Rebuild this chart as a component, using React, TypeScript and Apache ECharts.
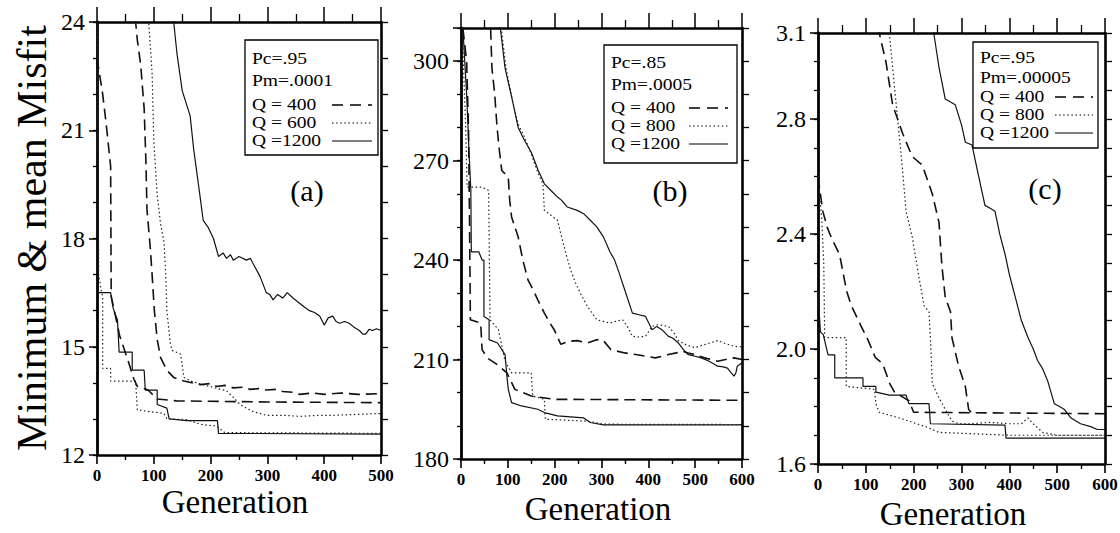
import React, { useEffect, useRef } from "react";
import * as echarts from "echarts";

const FONT = "Liberation Serif";

// ---------- axis ranges / tick labels ----------
const xMaxA = 500;
const xMaxBC = 600;
const xLabelsA = [0, 100, 200, 300, 400, 500];
const xLabelsBC = [0, 100, 200, 300, 400, 500, 600];
const yLabelsA = [12, 15, 18, 21, 24];
const yLabelsB = [180, 210, 240, 270, 300];
const yLabelsC = [1.6, 2.0, 2.4, 2.8, 3.1];

// ---------- panel (a): Pc=.95 Pm=.0001 ----------
const aMean1200 = [[128,26],[135,24],[141,23.1],[150,22.1],[164,21.4],[170,20.5],[182,19.1],[187,18.5],[196,18.3],[205,18.0],[214,17.5],[222,17.6],[228,17.45],[235,17.55],[240,17.4],[250,17.5],[263,17.4],[270,17.45],[275,17.3],[287,16.95],[298,16.5],[304,16.45],[310,16.3],[318,16.45],[327,16.35],[335,16.5],[345,16.35],[357,16.2],[365,16.1],[374,16.0],[383,15.95],[392,15.85],[400,15.6],[407,15.8],[415,15.85],[421,15.7],[427,15.65],[436,15.7],[444,15.65],[452,15.55],[462,15.45],[468,15.35],[473,15.35],[479,15.48],[485,15.45],[492,15.5],[500,15.45]];
const aMin1200 = [[0,26],[2,16.5],[24,16.5],[28,16.1],[32,15.9],[36,15.75],[39,14.85],[62,14.85],[62,14.35],[83,14.35],[85,13.8],[106,13.8],[106,13.4],[123,13.3],[127,13.0],[158,12.95],[212,12.95],[214,12.6],[500,12.58]];
const aMean600 = [[88,26],[91,24],[97,22.6],[100,20.7],[106,19.2],[112,18.4],[118,17.9],[121,17.0],[123,16.0],[129,15.1],[132,14.9],[147,14.8],[150,14.5],[153,14.15],[165,14.05],[182,13.97],[205,13.87],[228,13.78],[240,13.6],[252,13.4],[263,13.3],[275,13.2],[298,13.1],[330,13.1],[357,13.07],[390,13.1],[415,13.1],[450,13.12],[500,13.15]];
const aMin600 = [[0,26],[3,17],[8,16.5],[10,16.4],[10,14.4],[24,14.4],[24,14.05],[68,14.05],[71,13.25],[118,13.15],[123,13.0],[158,12.98],[182,12.85],[211,12.8],[225,12.62],[500,12.6]];
const aMean400 = [[65,26],[68,24],[71,23.5],[77,22.8],[83,21.6],[86,20.2],[88,18.8],[94,17.7],[97,17.0],[101,16.0],[106,15.2],[112,14.7],[123,14.35],[135,14.15],[153,14.05],[182,13.95],[200,13.98],[211,13.9],[225,13.93],[240,13.86],[260,13.88],[269,13.82],[285,13.84],[298,13.8],[315,13.82],[327,13.76],[345,13.74],[357,13.68],[380,13.72],[400,13.68],[430,13.72],[460,13.68],[500,13.7]];
const aMin400 = [[0,23],[10,22],[16,21.2],[24,20],[25,16.4],[40,15.3],[55,14.6],[65,14.1],[71,13.9],[90,13.8],[106,13.55],[140,13.5],[300,13.47],[500,13.45]];

// ---------- panel (b): Pc=.85 Pm=.0005 ----------
const bMean1200 = [[82,320],[84,310],[94,298],[110,288],[122,280],[136,276],[150,272.5],[165,267],[178,263],[192,261],[206,259],[215,258],[227,256],[248,255],[262,254],[276,252],[290,250],[304,247],[318,242.5],[328,240],[338,236],[352,230],[366,224],[380,223.5],[394,223],[408,219],[418,220],[429,219],[443,217],[452,216.5],[464,215],[475,213],[485,211.5],[500,211],[513,210.5],[530,209.5],[548,208],[560,207.8],[569,207.4],[577,206],[583,205],[587,206],[590,208],[600,209]];
const bMean800 = [[82,320],[86,310],[96,298],[110,288],[122,281],[136,277],[150,272],[165,266],[175,263],[178,255],[192,253.5],[206,252],[213,248],[224,242],[234,237],[245,233],[255,230],[270,226],[290,222],[304,221.5],[318,221],[330,221.5],[345,222],[355,220],[366,217],[380,216.8],[394,217],[408,220],[420,220.5],[443,220],[455,218],[464,215.7],[480,214.5],[499,213.6],[520,214.5],[548,215.7],[565,214.8],[583,214],[600,213.8]];
const bMean400 = [[60,320],[63,311],[66,298],[72,290],[77,280],[82,273],[87,267],[101,265],[104,258],[108,253],[122,247],[132,240],[143,234],[154,231],[164,228],[178,224],[190,221],[199,219],[213,214.6],[230,215.5],[248,215.7],[270,215],[290,216],[304,215.7],[320,213],[331,212.6],[350,212],[373,211.5],[395,211],[415,210.5],[430,211],[443,211.5],[460,212],[471,212.6],[485,212],[499,211.5],[520,210.5],[548,209.5],[565,210],[583,210.5],[600,210]];
const bMin1200 = [[0,320],[12,290],[18,270],[21,261],[22,242.5],[38,242.5],[45,240],[49,240],[49,223],[60,222],[60,216],[78,215],[94,211.5],[98,205],[101,201],[108,197],[129,196],[164,195],[178,194],[206,193],[262,192.4],[276,191],[304,190.3],[600,190.3]];
const bMin800 = [[0,320],[10,280],[13,262],[45,262],[59,261],[62,222],[80,219],[94,209.5],[108,206],[150,206],[153,199],[178,198],[180,192],[270,191.4],[304,190.5],[600,190.4]];
const bMin400 = [[0,315],[12,300],[16,280],[18,255],[20,222],[42,221],[45,213],[56,210.5],[78,208.4],[98,206],[115,201],[150,199],[199,198],[600,197.7]];

// ---------- panel (c): Pc=.95 Pm=.00005 ----------
const cMean1200 = [[238,3.3],[242,3.1],[253,2.98],[266,2.87],[287,2.85],[300,2.78],[308,2.72],[322,2.71],[336,2.6],[349,2.5],[360,2.49],[370,2.48],[380,2.4],[391,2.33],[400,2.26],[411,2.19],[425,2.1],[439,2.04],[450,2.0],[459,1.96],[470,1.93],[480,1.89],[494,1.81],[505,1.8],[515,1.79],[529,1.76],[549,1.74],[570,1.73],[584,1.72],[600,1.72]];
const cMean800 = [[146,3.3],[149,3.1],[156,2.98],[163,2.86],[170,2.74],[177,2.62],[184,2.48],[197,2.39],[211,2.25],[222,2.15],[232,2.13],[235,2.04],[239,1.88],[253,1.83],[266,1.79],[280,1.75],[294,1.74],[320,1.74],[360,1.745],[400,1.74],[425,1.74],[439,1.76],[450,1.74],[470,1.71],[500,1.7],[600,1.7]];
const cMean400 = [[125,3.3],[128,3.1],[142,3.0],[156,2.85],[177,2.75],[197,2.67],[218,2.64],[239,2.54],[253,2.44],[259,2.29],[266,2.18],[277,2.13],[280,2.04],[294,1.94],[308,1.87],[315,1.79],[320,1.78]];
const cMin1200 = [[0,2.2],[5,2.06],[11,2.05],[21,1.98],[35,1.98],[35,1.9],[94,1.9],[94,1.87],[121,1.87],[121,1.85],[149,1.84],[184,1.84],[190,1.81],[232,1.81],[235,1.74],[391,1.735],[393,1.69],[600,1.69]];
const cMin800 = [[0,2.6],[8,2.45],[12,2.3],[14,2.04],[59,2.04],[59,1.87],[118,1.86],[121,1.81],[128,1.78],[170,1.76],[225,1.73],[253,1.71],[400,1.7],[600,1.7]];
const cMin400 = [[0,2.6],[10,2.48],[20,2.42],[30,2.38],[45,2.33],[60,2.2],[70,2.15],[90,2.08],[105,2.03],[120,1.97],[135,1.95],[150,1.88],[160,1.85],[180,1.83],[190,1.82],[200,1.78],[600,1.775]];

// ---------- legend texts ----------
const legendA = ["Pc=.95", "Pm=.0001", "Q = 400", "Q = 600", "Q =1200"];
const legendB = ["Pc=.85", "Pm=.0005", "Q = 400", "Q = 800", "Q =1200"];
const legendC = ["Pc=.95", "Pm=.00005", "Q = 400", "Q = 800", "Q =1200"];

const DASH = { color: "#111", width: 1.6, type: [11, 6] as any };
const DOT = { color: "#222", width: 1.2, type: [1.5, 2.6] as any };
const SOLID = { color: "#111", width: 1.2, type: "solid" as any };

function line(data: number[][], style: any, p: number) {
  return {
    type: "line",
    data,
    xAxisIndex: 2 * p,
    yAxisIndex: 3 * p,
    symbol: "none",
    showSymbol: false,
    clip: true,
    silent: true,
    lineStyle: style,
    z: 3,
  };
}

function xAxes(p: number, max: number) {
  const base = {
    type: "value",
    gridIndex: p,
    min: 0,
    max,
    interval: 100,
    splitLine: { show: false },
    axisLabel: { show: false },
    axisLine: { show: true, onZero: false, lineStyle: { color: "#000", width: 2.6 } },
  };
  return [
    {
      ...base,
      position: "bottom",
      axisTick: { show: true, inside: false, length: 9, lineStyle: { color: "#000", width: 1.6 } },
      minorTick: { show: true, splitNumber: 2, length: 5, lineStyle: { color: "#000", width: 1.4 } },
    },
    {
      ...base,
      position: "top",
      axisTick: { show: true, inside: false, length: 15, lineStyle: { color: "#000", width: 1.5 } },
      minorTick: { show: true, splitNumber: 2, length: 8, lineStyle: { color: "#000", width: 1.3 } },
    },
  ];
}

function yAxes(p: number, min: number, max: number, major: number, minor: number) {
  const base = {
    type: "value",
    gridIndex: p,
    min,
    max,
    splitLine: { show: false },
    axisLabel: { show: false },
  };
  return [
    {
      ...base,
      position: "left",
      interval: major,
      axisLine: { show: true, onZero: false, lineStyle: { color: "#000", width: 2.8 } },
      axisTick: { show: true, inside: false, length: 8, lineStyle: { color: "#000", width: 1.5 } },
    },
    {
      ...base,
      position: "left",
      interval: minor,
      axisLine: { show: false },
      axisTick: { show: true, inside: false, length: 4, lineStyle: { color: "#000", width: 1.3 } },
    },
    {
      ...base,
      position: "right",
      interval: minor,
      axisLine: { show: true, onZero: false, lineStyle: { color: "#000", width: 2.6 } },
      axisTick: { show: true, inside: false, length: 7, lineStyle: { color: "#000", width: 1.3 } },
    },
  ];
}

function legendBox(x: number, y: number, w: number, h: number, texts: string[], ys: number[], lx1: number, lx2: number) {
  const els: any[] = [
    { type: "rect", shape: { x, y, width: w, height: h }, style: { fill: "#fff", stroke: "#000", lineWidth: 1.3 }, z: 50 },
  ];
  texts.forEach((t, i) => {
    els.push({
      type: "text",
      x: x + 7,
      y: ys[i],
      z: 51,
      scaleX: 1.15,
      style: { text: t, fontFamily: FONT, fontSize: 17, fill: "#000", align: "left", verticalAlign: "middle" },
    });
  });
  const styles = [[11, 7], [1.5, 2.6], null];
  [2, 3, 4].forEach((k, j) => {
    els.push({
      type: "line",
      z: 51,
      shape: { x1: lx1, y1: ys[k] + 1, x2: lx2, y2: ys[k] + 1 },
      style: { stroke: "#000", lineWidth: j === 0 ? 1.5 : 1.1, lineDash: styles[j] || undefined },
    });
  });
  return els;
}

function txt(text: string, x: number, y: number, size: number, extra: any = {}, align = "center", vAlign = "middle", weight = "normal") {
  return {
    type: "text",
    x,
    y,
    z: 60,
    ...extra,
    style: { text, fontFamily: FONT, fontSize: size, fontWeight: weight, fill: "#000", align, verticalAlign: vAlign },
  };
}

export default function App() {
  const ref = useRef<HTMLDivElement>(null);
  useEffect(() => {
    if (!ref.current) return;
    const chart = echarts.init(ref.current, undefined, { renderer: "svg" });
    const staticGraphic: any[] = [
      ...legendBox(245, 40, 133, 115, legendA, [58, 80, 104, 122, 140], 332, 372),
      ...legendBox(604, 45, 133, 118, legendB, [62, 84, 107, 125, 143], 689, 728),
      ...legendBox(973, 42, 125, 106, legendC, [57, 77, 96, 114, 132], 1055, 1093),
      txt("(a)", 307, 190, 30),
      txt("(b)", 670, 190, 30),
      txt("(c)", 1045, 188, 30),
      txt("Generation", 235, 502, 33),
      txt("Generation", 598, 509, 33),
      txt("Generation", 953, 514, 33),
      txt("Minimum & mean Misfit", 32, 238, 42, { rotation: Math.PI / 2 }),
    ];
    const option: any = {
      animation: false,
      backgroundColor: "#fff",
      textStyle: { fontFamily: FONT, color: "#000" },
      grid: [
        { left: 97, top: 22, width: 284, height: 433 },
        { left: 461, top: 28, width: 281, height: 431 },
        { left: 818, top: 33, width: 287, height: 431 },
      ],
      xAxis: [...xAxes(0, xMaxA), ...xAxes(1, xMaxBC), ...xAxes(2, xMaxBC)],
      yAxis: [
        ...yAxes(0, 12, 24, 3, 1),
        ...yAxes(1, 180, 310, 30, 10),
        ...yAxes(2, 1.6, 3.1, 0.4, 0.1),
      ],
      series: [
        line(aMin1200, SOLID, 0),
        line(aMin600, DOT, 0),
        line(aMin400, DASH, 0),
        line(aMean1200, SOLID, 0),
        line(aMean600, DOT, 0),
        line(aMean400, DASH, 0),
        line(bMin1200, SOLID, 1),
        line(bMin800, DOT, 1),
        line(bMin400, DASH, 1),
        line(bMean1200, SOLID, 1),
        line(bMean800, DOT, 1),
        line(bMean400, DASH, 1),
        line(cMin1200, SOLID, 2),
        line(cMin800, DOT, 2),
        line(cMin400, DASH, 2),
        line(cMean1200, SOLID, 2),
        line(cMean800, DOT, 2),
        line(cMean400, DASH, 2),
      ],
      graphic: staticGraphic,
    };
    chart.setOption(option);

    // tick labels placed through the axes' own scales
    const panels = [
      { p: 0, xs: xLabelsA, ys: yLabelsA, yMin: 12, fmt: (v: number) => String(v) },
      { p: 1, xs: xLabelsBC, ys: yLabelsB, yMin: 180, fmt: (v: number) => String(v) },
      { p: 2, xs: xLabelsBC, ys: yLabelsC, yMin: 1.6, fmt: (v: number) => v.toFixed(1) },
    ];
    const labelEls: any[] = [];
    panels.forEach(({ p, xs, ys, yMin, fmt }) => {
      const finder = { xAxisIndex: 2 * p, yAxisIndex: 3 * p };
      xs.forEach((v) => {
        const pt = chart.convertToPixel(finder as any, [v, yMin]) as number[];
        labelEls.push(txt(String(v), pt[0], pt[1] + 12, 17, {}, "center", "top", "bold"));
      });
      ys.forEach((v) => {
        const pt = chart.convertToPixel(finder as any, [0, v]) as number[];
        labelEls.push(txt(fmt(v), pt[0] - 12, pt[1], 24, {}, "right", "middle"));
      });
    });
    chart.setOption({ graphic: [...staticGraphic, ...labelEls] });
    return () => chart.dispose();
  }, []);
  return (
    <div
      ref={ref}
      style={{ position: "absolute", left: 0, top: 0, width: 1120, height: 533, background: "#fff" }}
    />
  );
}
